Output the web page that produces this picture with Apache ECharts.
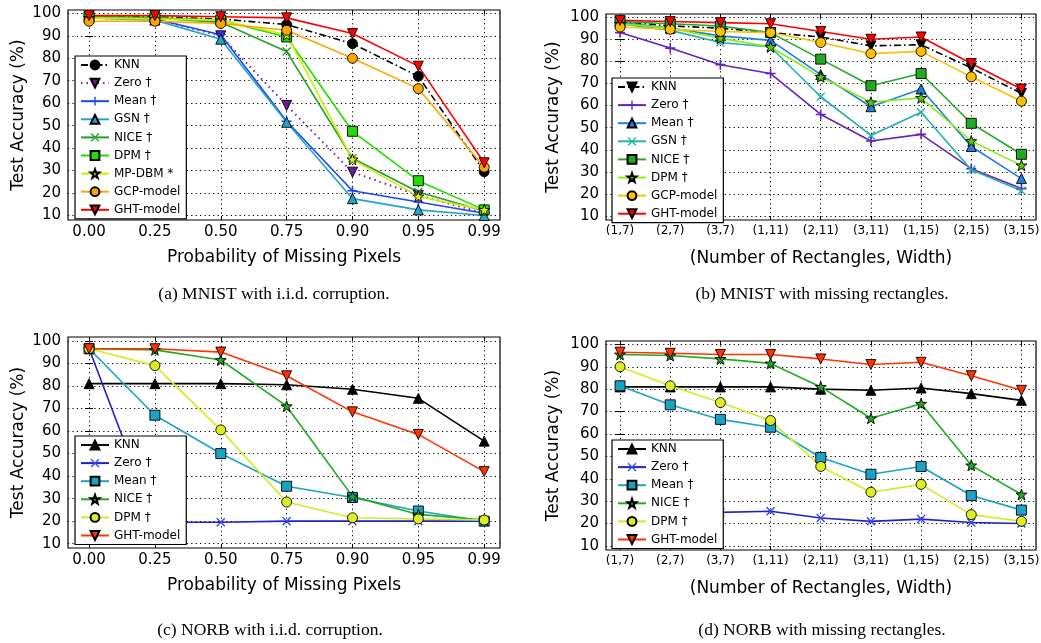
<!DOCTYPE html>
<html><head><meta charset="utf-8">
<script src="https://cdn.jsdelivr.net/npm/echarts@6/dist/echarts.min.js"></script>
<style>html,body{margin:0;padding:0;background:#fff}#c{width:1041px;height:643px}</style>
</head><body><div id="c"></div>
<script>
// ---------- tick labels ----------
const probTicks = ['0.00','0.25','0.50','0.75','0.90','0.95','0.99'];
const rectTicks = ['(1,7)','(2,7)','(3,7)','(1,11)','(2,11)','(3,11)','(1,15)','(2,15)','(3,15)'];
const yTicks = [10,20,30,40,50,60,70,80,90,100];

// ---------- (a) MNIST i.i.d. ----------
const a_KNN  = [99, 98.5, 97.5, 95, 86.5, 72, 29.5];
const a_Zero = [98, 97.5, 90, 59, 29.3, 19, 11];
const a_Mean = [98, 97.5, 90.5, 52, 21, 16, 11];
const a_GSN  = [98, 97, 88.5, 51.5, 17.5, 12.5, 10];
const a_NICE = [98.5, 98, 96, 83, 35.5, 20.5, 12];
const a_DPM  = [98.5, 98, 97, 89.5, 47.5, 25.5, 12.5];
const a_MPDBM= [98, 97.5, 97, 90.5, 35, 18.5, 12.5];
const a_GCP  = [96.5, 96.5, 95.5, 92.5, 80, 66.5, 31.5];
const a_GHT  = [99, 99, 98.5, 98, 91, 76.5, 33.5];

// ---------- (b) MNIST rectangles ----------
const b_KNN  = [98, 96, 95, 93, 91, 87, 87.5, 77, 65.5];
const b_Zero = [93, 86, 78.5, 74.5, 56, 44, 47, 31.5, 22.5];
const b_Mean = [97.5, 95, 91.5, 89.5, 74, 59.5, 67.5, 41.5, 27];
const b_GSN  = [97, 94, 88.5, 86.5, 64, 46.5, 57, 31, 21.5];
const b_NICE = [98, 97, 96, 93, 81, 69, 74.5, 52, 38];
const b_DPM  = [97, 95, 90.5, 86.5, 73, 61.5, 63.5, 44, 33];
const b_GCP  = [95.5, 94.5, 93.5, 93, 88.5, 83.5, 84.5, 73, 62];
const b_GHT  = [98.5, 98, 97.5, 97, 93.5, 90, 91, 79, 67.5];

// ---------- (c) NORB i.i.d. ----------
const c_KNN  = [81, 81, 81, 80.5, 78.5, 74.5, 55.5];
const c_Zero = [96.5, 19.5, 19.5, 20, 20, 20, 20];
const c_Mean = [96.5, 67, 50, 35.5, 30.5, 24.5, 20];
const c_NICE = [96.5, 96, 91.5, 71, 31, 23, 20.5];
const c_DPM  = [96.5, 89, 60.5, 28.5, 21.5, 21, 20.5];
const c_GHT  = [96.5, 96.5, 95, 84.5, 68.5, 58.5, 42];

// ---------- (d) NORB rectangles ----------
const d_KNN  = [81, 81, 81, 81, 80, 79.5, 80.5, 78, 75];
const d_Zero = [25.5, 25, 25, 25.5, 22.5, 21, 22, 20.5, 20];
const d_Mean = [81.5, 73, 66.5, 63, 49.5, 42, 45.5, 32.5, 26];
const d_NICE = [95.5, 95, 93.5, 91.5, 81, 67, 73.5, 46, 33];
const d_DPM  = [90, 81.5, 74, 66, 45.5, 34, 37.5, 24, 21];
const d_GHT  = [96.5, 96, 95.5, 95.5, 93.5, 91, 92, 86, 79.5];

// ---------- symbols ----------
const DOWN = 'path://M0,0 L10,0 L5,9 Z';
const UP = 'path://M5,0 L10,9 L0,9 Z';
const PLUS = 'path://M4.2,0 H5.8 V4.2 H10 V5.8 H5.8 V10 H4.2 V5.8 H0 V4.2 H4.2 Z';
const CROSS = 'path://M0,1.1 L1.1,0 L5,3.9 L8.9,0 L10,1.1 L6.1,5 L10,8.9 L8.9,10 L5,6.1 L1.1,10 L0,8.9 L3.9,5 Z';
const STAR = 'path://M5,0 L6.18,3.38 L9.76,3.45 L6.9,5.62 L7.94,9.05 L5,7 L2.06,9.05 L3.1,5.62 L0.24,3.45 L3.82,3.38 Z';

const FONT = 'DejaVu Sans';
const series = [];
function add(g, prefix, name, data, o) {
  const lineMarker = (o.sym === PLUS || o.sym === CROSS);
  series.push({
    type: 'line', name: prefix + name, xAxisIndex: g * 2, yAxisIndex: g * 2,
    data: data.map((v, i) => [i, v]),
    symbol: o.sym, symbolSize: o.size || 10, showAllSymbol: true,
    animation: false, clip: false,
    itemStyle: { color: o.fill || o.color, borderColor: lineMarker ? o.color : '#000', borderWidth: lineMarker ? 0 : 0.9, opacity: 1 },
    lineStyle: { color: o.color, width: o.width || 1.6, type: o.type || 'solid' },
    emphasis: { disabled: true }
  });
}
const DASHDOT = [7, 3, 1.5, 3];
// (a)
add(0, 'a:', 'KNN', a_KNN, { color: '#000', sym: 'circle', type: DASHDOT });
add(0, 'a:', 'Zero †', a_Zero, { color: '#7a1fa2', fill: '#6a1b9a', sym: DOWN, type: [1.5, 4], width: 2 });
add(0, 'a:', 'Mean †', a_Mean, { color: '#1f45f0', sym: PLUS, size: 10 });
add(0, 'a:', 'GSN †', a_GSN, { color: '#1ea5c8', sym: UP });
add(0, 'a:', 'NICE †', a_NICE, { color: '#22a02a', sym: CROSS, size: 9 });
add(0, 'a:', 'DPM †', a_DPM, { color: '#22dd00', sym: 'rect', size: 10 });
add(0, 'a:', 'MP-DBM *', a_MPDBM, { color: '#ccee00', fill: '#e8f000', sym: STAR, size: 11 });
add(0, 'a:', 'GCP-model', a_GCP, { color: '#ffa500', sym: 'circle' });
add(0, 'a:', 'GHT-model', a_GHT, { color: '#ff0000', sym: DOWN });
// (b)
add(1, 'b:', 'KNN', b_KNN, { color: '#000', sym: DOWN, type: DASHDOT });
add(1, 'b:', 'Zero †', b_Zero, { color: '#6622bb', sym: PLUS, size: 10 });
add(1, 'b:', 'Mean †', b_Mean, { color: '#1e80e0', sym: UP });
add(1, 'b:', 'GSN †', b_GSN, { color: '#20b2aa', sym: CROSS, size: 9 });
add(1, 'b:', 'NICE †', b_NICE, { color: '#22aa22', sym: 'rect', size: 10 });
add(1, 'b:', 'DPM †', b_DPM, { color: '#88ee11', fill: '#55cc00', sym: STAR, size: 11 });
add(1, 'b:', 'GCP-model', b_GCP, { color: '#ffc000', sym: 'circle' });
add(1, 'b:', 'GHT-model', b_GHT, { color: '#ff0000', sym: DOWN });
// (c)
add(2, 'c:', 'KNN', c_KNN, { color: '#000', sym: UP });
add(2, 'c:', 'Zero †', c_Zero, { color: '#2020cc', fill: '#3344ee', sym: CROSS, size: 9 });
add(2, 'c:', 'Mean †', c_Mean, { color: '#1aa3c4', sym: 'rect', size: 10 });
add(2, 'c:', 'NICE †', c_NICE, { color: '#22aa22', sym: STAR, size: 11 });
add(2, 'c:', 'DPM †', c_DPM, { color: '#ccee22', fill: '#ddee22', sym: 'circle' });
add(2, 'c:', 'GHT-model', c_GHT, { color: '#ff3300', sym: DOWN });
// (d)
add(3, 'd:', 'KNN', d_KNN, { color: '#000', sym: UP });
add(3, 'd:', 'Zero †', d_Zero, { color: '#2020cc', fill: '#3344ee', sym: CROSS, size: 9 });
add(3, 'd:', 'Mean †', d_Mean, { color: '#1aa3c4', sym: 'rect', size: 10 });
add(3, 'd:', 'NICE †', d_NICE, { color: '#22aa22', sym: STAR, size: 11 });
add(3, 'd:', 'DPM †', d_DPM, { color: '#ccee22', fill: '#ddee22', sym: 'circle' });
add(3, 'd:', 'GHT-model', d_GHT, { color: '#ff3300', sym: DOWN });

// ---------- grids / axes ----------
const panels = [
  { left: 68, top: 10, width: 432, height: 210, ticks: probTicks, xmin: -0.32, xmax: 6.24, ymin: 8, ymax: 101.5, xname: 'Probability of Missing Pixels', xfs: 15, xgap: 29, ygap: 41 },
  { left: 606, top: 14, width: 430, height: 206, ticks: rectTicks, xmin: -0.28, xmax: 8.29, ymin: 8.3, ymax: 101.4, xname: '(Number of Rectangles, Width)', xfs: 12, xgap: 30, ygap: 44 },
  { left: 68, top: 337, width: 432, height: 211, ticks: probTicks, xmin: -0.32, xmax: 6.24, ymin: 8.1, ymax: 101.7, xname: 'Probability of Missing Pixels', xfs: 15, xgap: 29, ygap: 41 },
  { left: 606, top: 341, width: 430, height: 209, ticks: rectTicks, xmin: -0.28, xmax: 8.29, ymin: 8.2, ymax: 101.5, xname: '(Number of Rectangles, Width)', xfs: 12, xgap: 30, ygap: 44 }
];
const grid = [], xAxis = [], yAxis = [];
const splitDots = { show: true, lineStyle: { color: '#000', width: 1, type: [1.2, 3.2] } };
panels.forEach((p, g) => {
  grid.push({ left: p.left, top: p.top, width: p.width, height: p.height, show: true, borderColor: '#000', borderWidth: 1.2, backgroundColor: 'transparent', containLabel: false, outerBoundsMode: 'none' });
  const xIdx = p.ticks.map((_, i) => i);
  xAxis.push({
    type: 'value', gridIndex: g, position: 'bottom', min: p.xmin, max: p.xmax,
    axisLine: { show: false },
    axisTick: { show: true, inside: true, length: 4, customValues: xIdx, lineStyle: { color: '#000' } },
    axisLabel: { show: true, customValues: xIdx, margin: 5, formatter: v => p.ticks[Math.round(v)], fontFamily: FONT, fontSize: p.xfs, color: '#000' },
    splitLine: splitDots,
    name: p.xname, nameLocation: 'middle', nameGap: p.xgap,
    nameTextStyle: { fontFamily: FONT, fontSize: 17, color: '#000' }
  });
  xAxis.push({
    type: 'value', gridIndex: g, position: 'top', min: p.xmin, max: p.xmax,
    axisLine: { show: false },
    axisTick: { show: true, inside: true, length: 4, customValues: xIdx, lineStyle: { color: '#000' } },
    axisLabel: { show: false, customValues: xIdx }, splitLine: { show: false }
  });
  yAxis.push({
    type: 'value', gridIndex: g, position: 'left', min: p.ymin, max: p.ymax,
    axisLine: { show: false },
    axisTick: { show: true, inside: true, length: 4, customValues: yTicks, lineStyle: { color: '#000' } },
    axisLabel: { show: true, customValues: yTicks, margin: 7, fontFamily: FONT, fontSize: 15, color: '#000' },
    splitLine: splitDots,
    name: 'Test Accuracy (%)', nameLocation: 'middle', nameGap: p.ygap,
    nameTextStyle: { fontFamily: FONT, fontSize: 17, color: '#000' }
  });
  yAxis.push({
    type: 'value', gridIndex: g, position: 'right', min: p.ymin, max: p.ymax,
    axisLine: { show: false },
    axisTick: { show: true, inside: true, length: 4, customValues: yTicks, lineStyle: { color: '#000' } },
    axisLabel: { show: false, customValues: yTicks }, splitLine: { show: false }
  });
});

// ---------- legends ----------
function legendFor(prefix, left, top) {
  return {
    orient: 'vertical', left: left, top: top,
    data: series.filter(s => s.name.startsWith(prefix)).map(s => s.name),
    formatter: n => n.slice(2),
    itemWidth: 28, itemHeight: 11, itemGap: 6.1,
    padding: [3, 6, 3, 5],
    borderColor: '#000', borderWidth: 1.2, backgroundColor: '#fff', borderRadius: 0,
    textStyle: { fontFamily: FONT, fontSize: 12, color: '#000' },
    selectedMode: false, z: 10
  };
}
const legend = [legendFor('a:', 75, 56), legendFor('b:', 612, 78), legendFor('c:', 75, 436), legendFor('d:', 612, 440)];

// ---------- captions ----------
const capFont = '17.5px "Liberation Serif"';
const captions = [
  ['(a) MNIST with i.i.d. corruption.', 274, 294],
  ['(b) MNIST with missing rectangles.', 822, 294],
  ['(c) NORB with i.i.d. corruption.', 270, 630],
  ['(d) NORB with missing rectangles.', 822, 630]
];
const graphic = captions.map(c => ({
  type: 'text', x: c[1], y: c[2], z: 20,
  style: { text: c[0], font: capFont, fill: '#000', align: 'center', verticalAlign: 'middle', textAlign: 'center', textVerticalAlign: 'middle' }
}));

const chart = echarts.init(document.getElementById('c'), null, { renderer: 'canvas' });
chart.setOption({
  animation: false, backgroundColor: '#fff',
  grid, xAxis, yAxis, series, legend, graphic, tooltip: { show: false }
});
</script></body></html>
